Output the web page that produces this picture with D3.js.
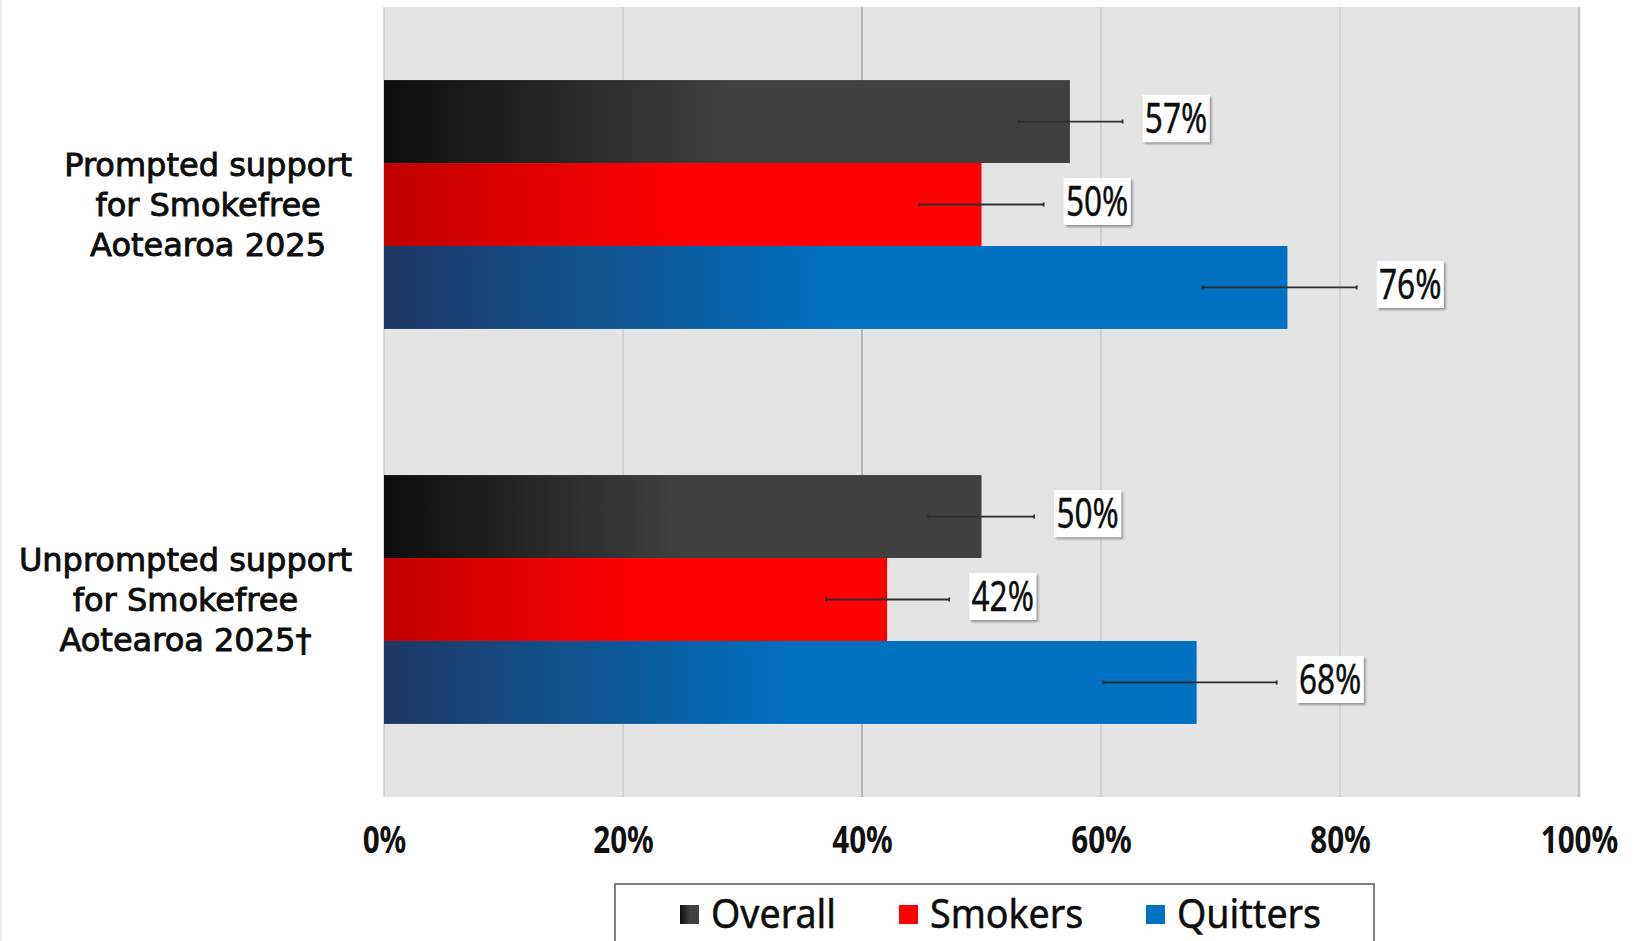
<!DOCTYPE html>
<html>
<head>
<meta charset="utf-8">
<script src="https://cdn.jsdelivr.net/npm/d3@7"></script>
<style>
  body { margin: 0; background: #ffffff; }
  svg { display: block; }
</style>
</head>
<body>
<svg id="chart" width="1636" height="941"></svg>
<script>
// ---- data (percent) ----
const categories = ["Prompted", "Unprompted"];
const categoryLines = [
  ["Prompted support", "for Smokefree", "Aotearoa 2025"],
  ["Unprompted support", "for Smokefree", "Aotearoa 2025\u2020"]
];
const series = ["Overall", "Smokers", "Quitters"];
const overallValues  = [57.4, 50.0];
const smokersValues  = [50.0, 42.1];
const quittersValues = [75.6, 68.0];
// 95% confidence interval bounds
const overallLow   = [53.1, 45.5];
const overallHigh  = [61.8, 54.4];
const smokersLow   = [44.8, 37.0];
const smokersHigh  = [55.2, 47.3];
const quittersLow  = [68.5, 60.2];
const quittersHigh = [81.4, 74.7];
const tickValues = [0, 20, 40, 60, 80, 100];

const valuesBySeries = { Overall: overallValues, Smokers: smokersValues, Quitters: quittersValues };
const lowBySeries  = { Overall: overallLow,  Smokers: smokersLow,  Quitters: quittersLow };
const highBySeries = { Overall: overallHigh, Smokers: smokersHigh, Quitters: quittersHigh };

const rows = [];
categories.forEach((c, i) => series.forEach(s => rows.push({
  category: c, series: s,
  value: valuesBySeries[s][i], low: lowBySeries[s][i], high: highBySeries[s][i]
})));

// ---- layout ----
const svg = d3.select("#chart");
const plot = { left: 384, right: 1579, top: 7, bottom: 797 };

const x = d3.scaleLinear().domain([0, 100]).range([plot.left, plot.right]);
const y0 = d3.scaleBand().domain(categories).range([plot.top, plot.bottom])
  .paddingInner(0.37).paddingOuter(0.185);
const y1 = d3.scaleBand().domain(series).range([0, y0.bandwidth()]);

const gradientStops = {
  Overall:  ["#0d0d0d", "#404040"],
  Smokers:  ["#c00000", "#ff0000"],
  Quitters: ["#1f3864", "#0070c0"]
};
const swatchColor = { Overall: "#404040", Smokers: "#ff0000", Quitters: "#0070c0" };

const defs = svg.append("defs");
series.forEach(s => {
  const g = defs.append("linearGradient").attr("id", "grad-" + s)
    .attr("x1", 0).attr("x2", 1).attr("y1", 0).attr("y2", 0);
  g.append("stop").attr("offset", 0).attr("stop-color", gradientStops[s][0]);
  g.append("stop").attr("offset", 0.5).attr("stop-color", gradientStops[s][1]);
  g.append("stop").attr("offset", 1).attr("stop-color", gradientStops[s][1]);
});
const shadow = defs.append("filter").attr("id", "boxShadow")
  .attr("x", "-20%").attr("y", "-20%").attr("width", "150%").attr("height", "150%");
shadow.append("feDropShadow").attr("dx", 2).attr("dy", 2).attr("stdDeviation", 1.2)
  .attr("flood-color", "#000").attr("flood-opacity", 0.35);

// faint frame line on the far left
svg.append("line").attr("x1", 1).attr("x2", 1).attr("y1", 0).attr("y2", 941)
  .attr("stroke", "#ececec").attr("stroke-width", 2);

// plot background
svg.append("rect")
  .attr("x", plot.left).attr("y", plot.top)
  .attr("width", plot.right - plot.left).attr("height", plot.bottom - plot.top)
  .attr("fill", "#e5e4e5");

// vertical gridlines
svg.append("g").selectAll("line").data(tickValues).join("line")
  .attr("x1", d => x(d)).attr("x2", d => x(d))
  .attr("y1", plot.top).attr("y2", plot.bottom)
  .attr("stroke", d => d === 40 ? "#a9a9a9" : (d === 100 ? "#c2c2c2" : "#cdcdcd"))
  .attr("stroke-width", d => d === 100 ? 2.5 : 1.5);

// bars
const barG = svg.append("g");
barG.selectAll("rect").data(rows).join("rect")
  .attr("x", x(0))
  .attr("y", d => y0(d.category) + y1(d.series))
  .attr("width", d => x(d.value) - x(0))
  .attr("height", y1.bandwidth())
  .attr("fill", d => `url(#grad-${d.series})`);

// error bars
const errG = svg.append("g").attr("stroke", "#2e2e2e").attr("stroke-width", 1.8);
rows.forEach(d => {
  const cy = y0(d.category) + y1(d.series) + y1.bandwidth() / 2;
  errG.append("line").attr("x1", x(d.low)).attr("x2", x(d.high)).attr("y1", cy).attr("y2", cy);
  [d.low, d.high].forEach(v => errG.append("line")
    .attr("x1", x(v)).attr("x2", x(v)).attr("y1", cy - 2).attr("y2", cy + 2));
});

// value labels in white boxes
const fmt = v => Math.round(v) + "%";
const labelG = svg.append("g");
rows.forEach(d => {
  const cy = y0(d.category) + y1(d.series) + y1.bandwidth() / 2 - 3;
  const bw = 67, bh = 47;
  const bx = x(d.high) + 20;
  labelG.append("rect").attr("x", bx).attr("y", cy - bh / 2)
    .attr("width", bw).attr("height", bh).attr("fill", "#ffffff")
    .attr("filter", "url(#boxShadow)");
  labelG.append("g").attr("transform", `translate(${bx + bw / 2},${cy + 14.5}) scale(0.77,1)`)
    .append("text").attr("text-anchor", "middle")
    .attr("font-family", "'Noto Sans', sans-serif").attr("font-size", 41)
    .attr("fill", "#0d0d0d").attr("stroke", "#0d0d0d").attr("stroke-width", 0.4)
    .text(fmt(d.value));
});

// category labels: each block centred on its widest line, blocks right-aligned
const labelRight = 352;
const lineGap = 40;
categoryLines.forEach((lines, i) => {
  const cy = y0(categories[i]) + y0.bandwidth() / 2;
  const t = svg.append("text").attr("text-anchor", "middle")
    .attr("font-family", "'DejaVu Sans', sans-serif").attr("font-size", 32)
    .attr("fill", "#0d0d0d").attr("stroke", "#0d0d0d").attr("stroke-width", 0.9);
  const spans = lines.map((ln, k) => t.append("tspan")
    .attr("y", cy + 11 + (k - 1) * lineGap).text(ln));
  const widest = d3.max(spans, sp => sp.node().getComputedTextLength());
  spans.forEach(sp => sp.attr("x", labelRight - widest / 2));
});

// x axis
const xAxis = d3.axisBottom(x).tickValues(tickValues).tickFormat(d => d + "%").tickSize(0).tickPadding(0);
const axG = svg.append("g").attr("transform", `translate(0,${plot.bottom})`).call(xAxis);
axG.select(".domain").remove();
axG.selectAll("text")
  .attr("y", 56).attr("dy", 0)
  .attr("transform", "scale(0.78,1)")
  .attr("font-family", "'Noto Sans', sans-serif").attr("font-size", 38).attr("font-weight", 700)
  .attr("fill", "#111");

// legend
const legend = svg.append("g");
legend.append("rect").attr("x", 615).attr("y", 884).attr("width", 759).attr("height", 80)
  .attr("fill", "#fff").attr("stroke", "#7f7f7f").attr("stroke-width", 2);
const legendX = d3.scaleOrdinal().domain(series).range([680, 899, 1146]);
series.forEach(s => {
  const lx = legendX(s);
  legend.append("rect").attr("x", lx).attr("y", 905).attr("width", 19).attr("height", 19)
    .attr("fill", s === "Overall" ? "url(#grad-Overall)" : swatchColor[s]);
  legend.append("g").attr("transform", `translate(${lx + 31},928) scale(0.94,1)`)
    .append("text").attr("font-family", "'Noto Sans', sans-serif").attr("font-size", 40)
    .attr("fill", "#0d0d0d").attr("stroke", "#0d0d0d").attr("stroke-width", 0.5)
    .text(s);
});
</script>
</body>
</html>
